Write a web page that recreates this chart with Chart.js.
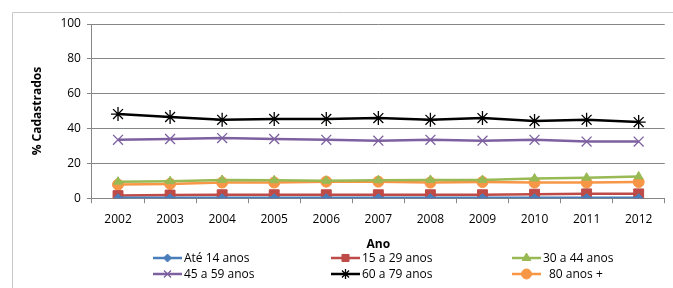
<!DOCTYPE html>
<html>
<head>
<meta charset="utf-8">
<script src="https://cdn.jsdelivr.net/npm/chart.js@4/dist/chart.umd.min.js"></script>
<style>
  html, body { margin: 0; padding: 0; background: #fff; }
  #wrap { width: 673px; height: 288px; position: relative; }
</style>
</head>
<body>
<div id="wrap"><canvas id="ageChart"></canvas></div>
<script>
const anos = ['2002', '2003', '2004', '2005', '2006', '2007', '2008', '2009', '2010', '2011', '2012'];
const ate14 = [0.3, 0.3, 0.3, 0.3, 0.3, 0.3, 0.3, 0.3, 0.3, 0.3, 0.3];
const de15a29 = [1.5, 1.8, 2.0, 2.0, 2.0, 2.0, 2.0, 2.0, 2.3, 2.5, 2.5];
const de30a44 = [9.5, 9.8, 10.5, 10.3, 10.0, 10.3, 10.5, 10.5, 11.3, 11.8, 12.5];
const de45a59 = [33.5, 34.0, 34.5, 34.0, 33.5, 33.0, 33.5, 33.0, 33.5, 32.5, 32.5];
const de60a79 = [48.3, 46.6, 45.0, 45.5, 45.5, 46.0, 45.0, 46.0, 44.3, 45.0, 43.7];
const de80mais = [7.8, 8.2, 9.0, 9.0, 9.5, 9.5, 9.0, 9.3, 9.0, 9.0, 9.3];
const yTicks = [0, 20, 40, 60, 80, 100];

const fontFam = "'Open Sans', 'Liberation Sans', sans-serif";

function serie(label, data, color, style, radius) {
    return {
        label: label,
        data: data,
        borderColor: color,
        backgroundColor: color,
        borderWidth: 2.5,
        pointStyle: style,
        pointRadius: radius,
        pointBorderColor: color,
        pointBackgroundColor: color,
        pointBorderWidth: (style === 'crossRot' || style === 'star') ? 1.3 : 1,
        tension: 0
    };
}

const datasets = [
    serie('Até 14 anos', ate14, '#4A7EBB', 'rectRot', 4),
    serie('15 a 29 anos', de15a29, '#BE4B48', 'rect', 7),
    serie('30 a 44 anos', de30a44, '#98B954', 'triangle', 5),
    serie('45 a 59 anos', de45a59, '#7D60A0', 'crossRot', 7),
    serie('60 a 79 anos', de60a79, '#000000', 'star', 7),
    serie('80 anos +', de80mais, '#F79646', 'circle', 5.5)
];

// legend in 3 fixed columns, like the spreadsheet one
const colX = [153, 331, 512];
const rowY = [258, 274];
const legendPlugin = {
    id: 'gridLegend',
    beforeDraw(chart) {
        const ctx = chart.ctx;
        ctx.save();
        ctx.strokeStyle = '#c8c8c8';
        ctx.lineWidth = 1;
        ctx.beginPath();
        ctx.moveTo(12.5, 300);
        ctx.lineTo(12.5, 12.5);
        ctx.lineTo(700, 12.5);
        ctx.stroke();
        ctx.restore();
    },
    afterDraw(chart) {
        const ctx = chart.ctx;
        ctx.save();
        chart.data.datasets.forEach((ds, i) => {
            const x = colX[i % 3];
            const y = rowY[Math.floor(i / 3)];
            ctx.strokeStyle = ds.borderColor;
            ctx.fillStyle = ds.borderColor;
            ctx.lineWidth = 2.5;
            ctx.beginPath();
            ctx.moveTo(x, y);
            ctx.lineTo(x + 29, y);
            ctx.stroke();
            ctx.lineWidth = ds.pointBorderWidth;
            Chart.helpers.drawPoint(ctx, {
                pointStyle: ds.pointStyle,
                radius: Math.min(ds.pointRadius, 5),
                borderWidth: ds.pointBorderWidth,
                rotation: 0
            }, x + 14.5, y);
            ctx.fillStyle = '#000';
            ctx.font = '12px ' + fontFam;
            ctx.textBaseline = 'middle';
            ctx.textAlign = 'left';
            const pad = i === 5 ? 7 : 1;
            ctx.fillText(ds.label, x + 30 + pad, y + 1);
        });
        ctx.restore();
    }
};

Chart.defaults.font.family = fontFam;
Chart.defaults.color = '#000';

new Chart(document.getElementById('ageChart').getContext('2d'), {
    type: 'line',
    data: { labels: anos, datasets: datasets },
    options: {
        responsive: true,
        maintainAspectRatio: false,
        animation: false,
        layout: { padding: { top: 24, right: 3, bottom: 36, left: 30 } },
        plugins: {
            legend: { display: false },
            tooltip: { enabled: false }
        },
        scales: {
            x: {
                offset: true,
                grid: {
                    display: true,
                    offset: true,
                    drawOnChartArea: false,
                    tickLength: 5,
                    color: '#868686'
                },
                border: { color: '#868686' },
                ticks: { font: { size: 12 }, color: '#000', padding: 9, maxRotation: 0 },
                title: {
                    display: true,
                    text: 'Ano',
                    font: { size: 12, weight: 'bold' },
                    color: '#000',
                    padding: { top: 2, bottom: 0 }
                }
            },
            y: {
                min: 0,
                max: 100,
                afterBuildTicks: axis => { axis.ticks = yTicks.map(v => ({ value: v })); },
                grid: {
                    color: '#868686',
                    tickLength: 5
                },
                border: { color: '#868686' },
                ticks: { font: { size: 12 }, color: '#000', padding: 6 },
                title: {
                    display: true,
                    text: '% Cadastrados',
                    font: { size: 12, weight: 'bold' },
                    color: '#000',
                    padding: { top: 0, bottom: 10 }
                }
            }
        }
    },
    plugins: [legendPlugin]
});
</script>
</body>
</html>
